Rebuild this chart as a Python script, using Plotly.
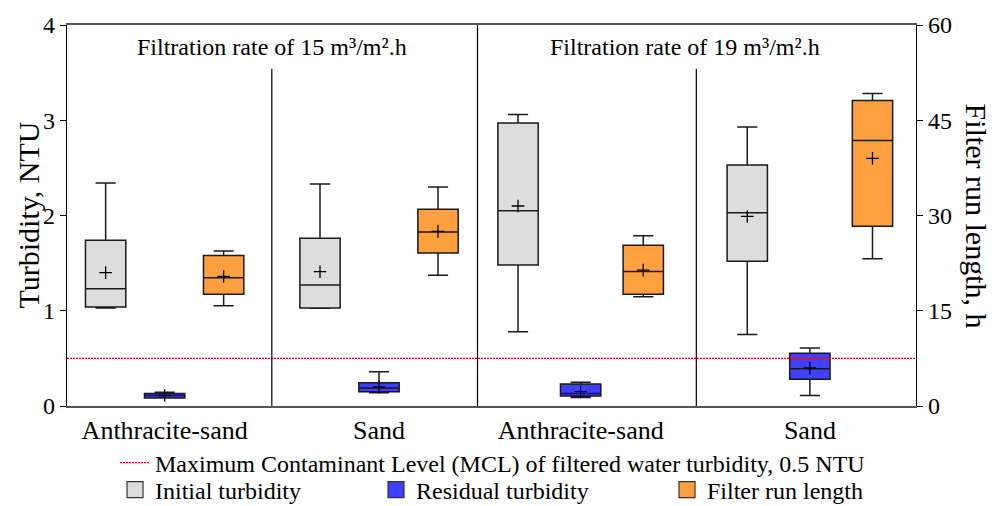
import plotly.graph_objects as go

# ---- data ---------------------------------------------------------------
categories = ["Anthracite-sand", "Sand", "Anthracite-sand", "Sand"]
panel_titles = ["Filtration rate of 15 m³/m².h", "Filtration rate of 19 m³/m².h"]

# Initial turbidity, NTU
init_low = [1.03, 1.025, 0.78, 0.75]
init_q1 = [1.04, 1.03, 1.48, 1.52]
init_med = [1.23, 1.27, 2.05, 2.03]
init_q3 = [1.74, 1.76, 2.97, 2.53]
init_high = [2.34, 2.33, 3.06, 2.93]
init_mean = [1.40, 1.41, 2.10, 1.99]

# Residual turbidity, NTU
res_low = [0.09, 0.14, 0.09, 0.11]
res_q1 = [0.085, 0.15, 0.105, 0.28]
res_med = [0.11, 0.19, 0.13, 0.39]
res_q3 = [0.13, 0.245, 0.23, 0.555]
res_high = [0.145, 0.36, 0.25, 0.61]
res_mean = [0.11, 0.20, 0.15, 0.40]

# Filter run length, h
run_low = [15.8, 20.6, 17.2, 23.2]
run_q1 = [17.6, 24.1, 17.6, 28.3]
run_med = [20.2, 27.4, 21.2, 41.8]
run_q3 = [23.7, 31.0, 25.3, 48.1]
run_high = [24.4, 34.5, 26.8, 49.2]
run_mean = [20.4, 27.5, 21.4, 39.0]

mcl_ntu = 0.5

# ---- layout helpers -------------------------------------------------------
centers = [0.46, 1.47, 2.42, 3.50]
spread = [0.278, 0.278, 0.295, 0.295]
x_init = [c - s for c, s in zip(centers, spread)]
x_res = list(centers)
x_run = [c + s for c, s in zip(centers, spread)]

FONT = "Liberation Serif"
EDGE = "#1a1a1a"
PLOT_L, PLOT_R = 67, 916          # plot-area edges in px


def serif(size):
    return dict(family=FONT, size=size, color="black")


def px_to_paper(px):
    return (px - PLOT_L) / (PLOT_R - PLOT_L)


fig = go.Figure()


def add_boxes(name, xs, low, q1, med, q3, high, mean, fill, yaxis, lw):
    fig.add_trace(go.Box(
        name=name, x=xs, q1=q1, median=med, q3=q3,
        lowerfence=low, upperfence=high,
        fillcolor=fill, line=dict(color=EDGE, width=1.5),
        whiskerwidth=0.5, width=0.19, boxpoints=False,
        yaxis=yaxis, showlegend=False, hoverinfo="skip",
    ))
    fig.add_trace(go.Scatter(
        x=xs, y=mean, mode="markers", yaxis=yaxis, showlegend=False,
        marker=dict(symbol="cross-thin", size=9,
                    line=dict(color="black", width=1.3)),
        hoverinfo="skip",
    ))
    # legend swatch
    fig.add_trace(go.Scatter(
        x=[None], y=[None], mode="markers", name=name, yaxis=yaxis,
        marker=dict(symbol="square", size=16, color=fill,
                    line=dict(color="#333333", width=1.2)),
        legend="legend2", legendwidth=lw, hoverinfo="skip",
    ))


add_boxes("Initial turbidity", x_init, init_low, init_q1, init_med, init_q3,
          init_high, init_mean, "#DDDDDD", "y", 216)
add_boxes("Residual turbidity", x_res, res_low, res_q1, res_med, res_q3,
          res_high, res_mean, "#4040FF", "y", 246)
add_boxes("Filter run length", x_run, run_low, run_q1, run_med, run_q3,
          run_high, run_mean, "#FFA040", "y2", 200)

# MCL reference line
fig.add_trace(go.Scatter(
    x=[0, 4], y=[mcl_ntu, mcl_ntu], mode="lines",
    line=dict(color="red", width=1.3, dash="2px,1px"),
    name="Maximum Contaminant Level (MCL) of filtered water turbidity, 0.5 NTU",
    legend="legend", hoverinfo="skip",
))

# panel dividers
divider_x = [0.965, 1.934, 2.965]
divider_top = [0.885, 1.0, 0.885]
for dx, top in zip(divider_x, divider_top):
    fig.add_shape(type="line", xref="x", yref="paper", x0=dx, x1=dx,
                  y0=0, y1=top, line=dict(color="black", width=1.2))

# panel titles
for title, xc in zip(panel_titles, [0.965, 2.91]):
    fig.add_annotation(text=title, x=xc, xref="x", y=0.943, yref="paper",
                       yanchor="middle", showarrow=False, font=serif(24))

# axis titles
fig.add_annotation(text="Turbidity, NTU", x=px_to_paper(28), xref="paper",
                   xanchor="center", y=0.5, yref="paper", textangle=-90,
                   showarrow=False, font=serif(30))
fig.add_annotation(text="Filter run length, h", x=px_to_paper(976), xref="paper",
                   xanchor="center", y=0.5, yref="paper", textangle=90,
                   showarrow=False, font=serif(30))

fig.update_layout(
    width=992, height=506,
    margin=dict(l=PLOT_L, r=992 - PLOT_R, t=25, b=100, autoexpand=False),
    paper_bgcolor="white", plot_bgcolor="white",
    boxmode="overlay",
    font=serif(20),
    xaxis=dict(range=[0, 4], tickmode="array", tickvals=centers,
               ticktext=categories, showgrid=False, zeroline=False,
               showline=True, linecolor="#555555", linewidth=1.5,
               mirror=True, ticks="", tickfont=serif(26)),
    yaxis=dict(range=[0, 4], tickvals=[0, 1, 2, 3, 4], showgrid=False,
               zeroline=False, showline=True, linecolor="black", linewidth=1.2,
               ticks="outside", ticklen=6, tickcolor="black",
               tickfont=serif(24)),
    yaxis2=dict(range=[0, 60], tickvals=[0, 15, 30, 45, 60], overlaying="y",
                side="right", showgrid=False, zeroline=False, showline=True,
                linecolor="black", linewidth=1.2, ticks="outside", ticklen=6,
                tickcolor="black", tickfont=serif(24)),
    legend=dict(x=115 / 992, xref="container", xanchor="left",
                y=(506 - 463) / 506, yref="container", yanchor="middle",
                font=serif(24), bgcolor="rgba(0,0,0,0)", orientation="h"),
    legend2=dict(x=115 / 992, xref="container", xanchor="left",
                 y=(506 - 490) / 506, yref="container", yanchor="middle",
                 font=serif(24), bgcolor="rgba(0,0,0,0)",
                 orientation="h", traceorder="normal"),
    showlegend=True,
)

fig.write_html("out.html")
